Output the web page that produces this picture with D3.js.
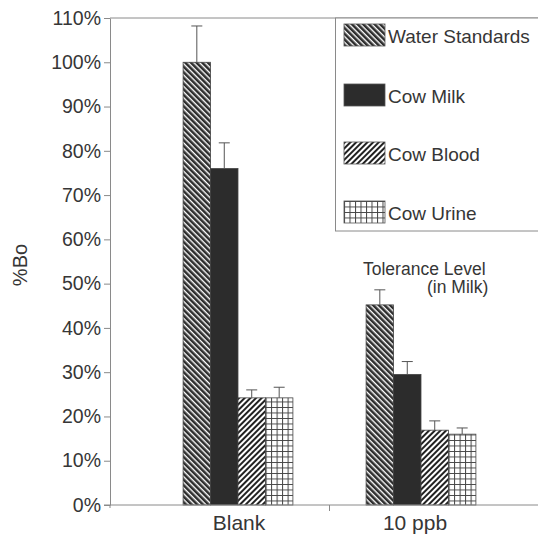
<!DOCTYPE html>
<html>
<head>
<meta charset="utf-8">
<script src="https://cdn.jsdelivr.net/npm/d3@7"></script>
<style>
  html, body { margin: 0; padding: 0; background: #fff; }
  svg { display: block; }
  text { font-family: "Liberation Sans", Arial, sans-serif; fill: #363636; }
</style>
</head>
<body>
<svg id="chart" width="538" height="534"></svg>
<script>
// ---- data ----
const categories = ["Blank", "10 ppb"];
const seriesNames = ["Water Standards", "Cow Milk", "Cow Blood", "Cow Urine"];
const waterValues = [100, 45.2];
const waterErrors = [8.2, 3.4];
const milkValues = [76, 29.5];
const milkErrors = [5.8, 2.9];
const bloodValues = [24.2, 16.9];
const bloodErrors = [1.8, 2.1];
const urineValues = [24.2, 16.0];
const urineErrors = [2.4, 1.4];
const yTicks = [0, 10, 20, 30, 40, 50, 60, 70, 80, 90, 100, 110];
const yLabel = "%Bo";
const annotationLines = ["Tolerance Level", "(in Milk)"];

const seriesValues = [waterValues, milkValues, bloodValues, urineValues];
const seriesErrors = [waterErrors, milkErrors, bloodErrors, urineErrors];
const patternIds = ["pWater", "pMilk", "pBlood", "pUrine"];

const svg = d3.select("#chart");
const axisColor = "#8a8a8a";

// ---- patterns ----
const defs = svg.append("defs");
const pw = defs.append("pattern").attr("id", "pWater").attr("patternUnits", "userSpaceOnUse")
  .attr("width", 4).attr("height", 4).attr("patternTransform", "rotate(-45)");
pw.append("rect").attr("width", 4).attr("height", 4).attr("fill", "#fff");
pw.append("rect").attr("width", 2.6).attr("height", 4).attr("fill", "#2e2e2e");
const pm = defs.append("pattern").attr("id", "pMilk").attr("patternUnits", "userSpaceOnUse")
  .attr("width", 4).attr("height", 4);
pm.append("rect").attr("width", 4).attr("height", 4).attr("fill", "#2c2c2c");
const pb = defs.append("pattern").attr("id", "pBlood").attr("patternUnits", "userSpaceOnUse")
  .attr("width", 4).attr("height", 4).attr("patternTransform", "rotate(45)");
pb.append("rect").attr("width", 4).attr("height", 4).attr("fill", "#fff");
pb.append("rect").attr("width", 2).attr("height", 4).attr("fill", "#222");
const pu = defs.append("pattern").attr("id", "pUrine").attr("patternUnits", "userSpaceOnUse")
  .attr("width", 5.5).attr("height", 5.5);
pu.append("rect").attr("width", 5.5).attr("height", 5.5).attr("fill", "#fff");
pu.append("path").attr("d", "M0.5,0V5.5M0,0.5H5.5").attr("stroke", "#444").attr("stroke-width", 1).attr("fill", "none");

// ---- scales ----
const y = d3.scaleLinear().domain([0, 110]).range([505, 18]);
const x = d3.scaleBand().domain(categories).range([146.5, 512.5]).paddingInner(0.4).paddingOuter(0.2);
const xs = d3.scaleBand().domain(seriesNames).range([0, x.bandwidth()]);

const plotLeft = 110, plotRight = 538;

svg.append("line").attr("x1", plotLeft).attr("x2", plotRight).attr("y1", y(110)).attr("y2", y(110))
  .attr("stroke", axisColor).attr("stroke-width", 1);

// ---- bars ----
const groups = svg.append("g").selectAll("g").data(categories).join("g")
  .attr("transform", d => `translate(${x(d)},0)`);

seriesNames.forEach((s, si) => {
  groups.append("rect")
    .attr("x", xs(s))
    .attr("y", (d, ci) => y(seriesValues[si][ci]))
    .attr("width", xs.bandwidth())
    .attr("height", (d, ci) => y(0) - y(seriesValues[si][ci]))
    .attr("fill", `url(#${patternIds[si]})`)
    .attr("stroke", "#444").attr("stroke-width", 0.8);
  const cx = xs(s) + xs.bandwidth() / 2;
  groups.append("line")
    .attr("x1", cx).attr("x2", cx)
    .attr("y1", (d, ci) => y(seriesValues[si][ci]))
    .attr("y2", (d, ci) => y(seriesValues[si][ci] + seriesErrors[si][ci]))
    .attr("stroke", "#555").attr("stroke-width", 1);
  groups.append("line")
    .attr("x1", cx - 5.5).attr("x2", cx + 5.5)
    .attr("y1", (d, ci) => y(seriesValues[si][ci] + seriesErrors[si][ci]))
    .attr("y2", (d, ci) => y(seriesValues[si][ci] + seriesErrors[si][ci]))
    .attr("stroke", "#555").attr("stroke-width", 1);
});

// ---- y axis ----
const yAxis = svg.append("g").attr("transform", `translate(${plotLeft},0)`)
  .call(d3.axisLeft(y).tickValues(yTicks).tickFormat(d => d + "%").tickSize(6).tickSizeOuter(0));
yAxis.select(".domain").attr("stroke", axisColor);
yAxis.selectAll(".tick line").attr("stroke", axisColor);
yAxis.selectAll(".tick text").attr("font-size", 19.5).attr("fill", "#363636")
  .style("font-family", '"Liberation Sans", Arial, sans-serif');

// ---- x axis ----
svg.append("line").attr("x1", plotLeft - 6).attr("x2", plotRight).attr("y1", y(0)).attr("y2", y(0))
  .attr("stroke", axisColor).attr("stroke-width", 1);
const sep = (x(categories[0]) + x.bandwidth() + x(categories[1])) / 2;
svg.append("line").attr("x1", sep).attr("x2", sep).attr("y1", y(0)).attr("y2", y(0) + 6)
  .attr("stroke", axisColor);
svg.append("line").attr("x1", plotLeft).attr("x2", plotLeft).attr("y1", y(0)).attr("y2", y(0) + 3)
  .attr("stroke", axisColor);
svg.append("g").selectAll("text").data(categories).join("text")
  .attr("x", d => x(d) + x.bandwidth() / 2 + (d === "Blank" ? 1 : -6))
  .attr("y", 530)
  .attr("text-anchor", "middle")
  .attr("font-size", 21)
  .text(d => d);

// ---- y label ----
svg.append("text")
  .attr("transform", "translate(27,265) rotate(-90)")
  .attr("text-anchor", "middle")
  .attr("font-size", 20)
  .text(yLabel);

// ---- annotation ----
svg.append("text").attr("x", 363).attr("y", 275).attr("font-size", 17.5).text(annotationLines[0]);
svg.append("text").attr("x", 427).attr("y", 293).attr("font-size", 17.5).text(annotationLines[1]);

// ---- legend ----
svg.append("rect").attr("x", 335.5).attr("y", 18).attr("width", 220).attr("height", 213)
  .attr("fill", "#fff").attr("stroke", axisColor).attr("stroke-width", 1);
const legendRows = [35, 95, 153, 212];
const lg = svg.append("g").selectAll("g").data(seriesNames).join("g")
  .attr("transform", (d, i) => `translate(344,${legendRows[i]})`);
lg.append("rect").attr("x", 0).attr("y", -11).attr("width", 41).attr("height", 22)
  .attr("fill", (d, i) => `url(#${patternIds[i]})`).attr("stroke", "#555").attr("stroke-width", 0.8);
lg.append("text").attr("x", 44).attr("y", 8).attr("font-size", 19).text(d => d);
</script>
</body>
</html>
